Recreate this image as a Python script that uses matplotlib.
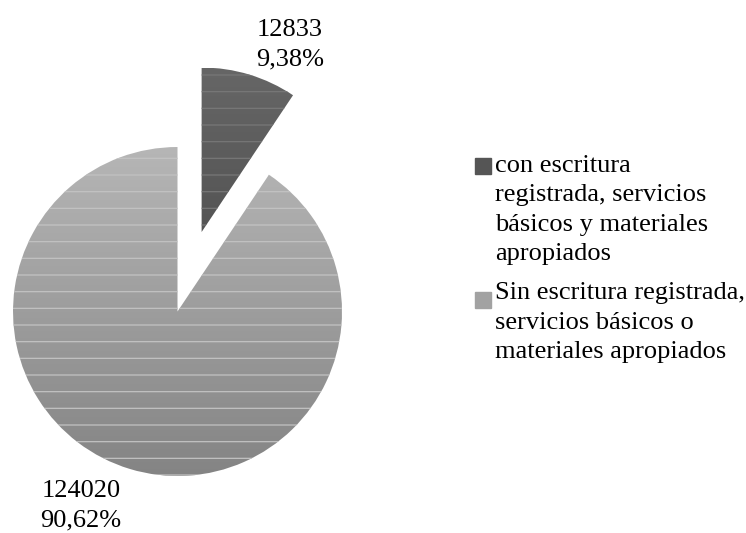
import matplotlib.pyplot as plt
import numpy as np
from matplotlib.colors import LinearSegmentedColormap
from matplotlib.patches import Rectangle

labels = ['con escritura\nregistrada, servicios\nbásicos y materiales\napropiados',
          'Sin escritura registrada,\nservicios básicos o\nmateriales apropiados']
values = [12833, 124020]
pct_labels = ['9,38%', '90,62%']

plt.rcParams['font.family'] = ['Liberation Serif', 'DejaVu Serif']
plt.rcParams['hatch.linewidth'] = 0.9

W, H = 746, 533
fig = plt.figure(figsize=(W / 100, H / 100), dpi=100)
ax = fig.add_axes([0, 0, 1, 1])

wedges, _ = ax.pie(values, startangle=90, counterclock=False,
                   explode=[0.505, 0], radius=1.0,
                   colors=['none', 'none'])

# vertical gradient fills (top, bottom) with faint horizontal lines
grads = [('#666666', '#424242'), ('#b6b6b6', '#848484')]
hatch_cols = ['#777777', '#c2c2c2']
for w, (ctop, cbot), hc in zip(wedges, grads, hatch_cols):
    cmap = LinearSegmentedColormap.from_list('g', [cbot, ctop])
    grad = np.linspace(0, 1, 256).reshape(-1, 1)
    cx, cy = w.center
    im = ax.imshow(grad, cmap=cmap, origin='lower', aspect='auto',
                   extent=[cx - 1, cx + 1, cy - 1, cy + 1], zorder=1)
    im.set_clip_path(w)
    w.set_hatch('-')
    w.set_edgecolor(hc)
    w.set_linewidth(0)
    w.set_zorder(2)

# 1 data unit = 164.5 px, pie centre at (177.5, 311.5) from top-left
R = 164.5
ax.set_xlim(-177.5 / R, (W - 177.5) / R)
ax.set_ylim(-(H - 311.5) / R, 311.5 / R)
ax.set_aspect('equal')
ax.axis('off')

fs = 19
ls = 1.43
# baseline positions refer to the last line of each text block
fig.text(290 / W, 1 - 65 / H, f'{values[0]}\n{pct_labels[0]}', ha='center',
         va='baseline', fontsize=fs, linespacing=ls, multialignment='center')
fig.text(81 / W, 1 - 526 / H, f'{values[1]}\n{pct_labels[1]}', ha='center',
         va='baseline', fontsize=fs, linespacing=ls, multialignment='center')

# legend
leg_cols = ['#555555', '#a2a2a2']
leg_last_base = [260, 358]
leg_square_top = [158, 292]
for lab, col, yb, ys in zip(labels, leg_cols, leg_last_base, leg_square_top):
    fig.patches.append(Rectangle((475 / W, 1 - (ys + 16) / H), 16 / W, 16 / H,
                                 transform=fig.transFigure, color=col))
    fig.text(495 / W, 1 - yb / H, lab, ha='left', va='baseline',
             fontsize=fs, linespacing=ls)

fig.savefig('out.png', dpi=100)
